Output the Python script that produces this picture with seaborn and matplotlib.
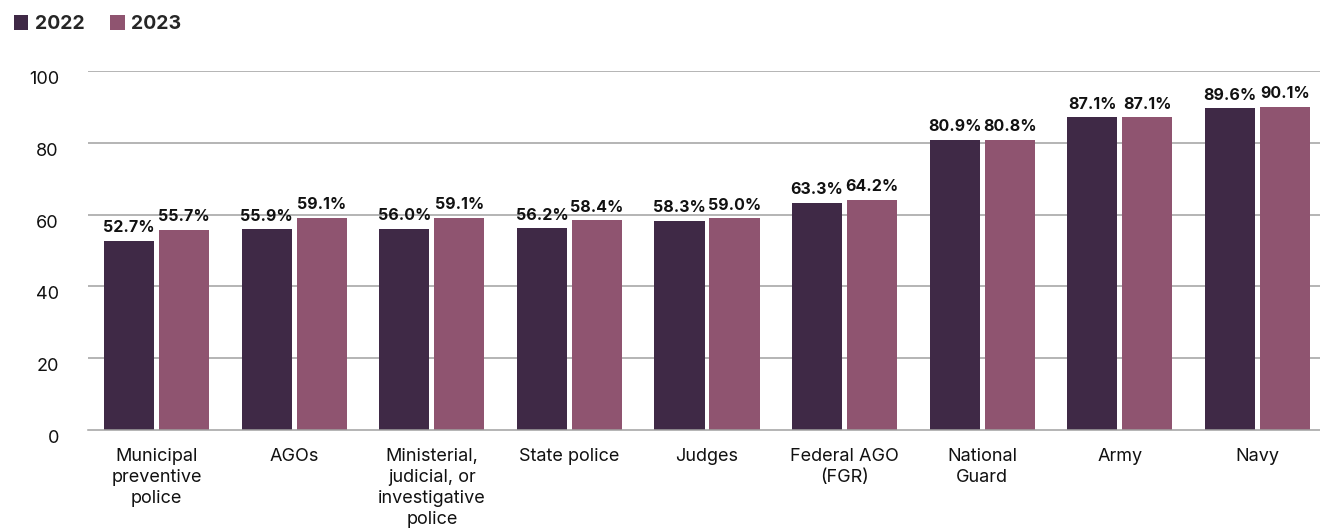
import matplotlib
matplotlib.use("Agg")
import matplotlib.pyplot as plt
from matplotlib.patches import Patch
import seaborn as sns
import pandas as pd

categories = ["Municipal\npreventive\npolice", "AGOs", "Ministerial,\njudicial, or\ninvestigative\npolice",
              "State police", "Judges", "Federal AGO\n(FGR)", "National\nGuard", "Army", "Navy"]
years = ["2022", "2023"]
values_2022 = [52.7, 55.9, 56.0, 56.2, 58.3, 63.3, 80.9, 87.1, 89.6]
values_2023 = [55.7, 59.1, 59.1, 58.4, 59.0, 64.2, 80.8, 87.1, 90.1]
yticks = [0, 20, 40, 60, 80, 100]
colors = {"2022": "#3f2946", "2023": "#8f5470"}

df = pd.DataFrame({
    "category": categories * 2,
    "year": ["2022"] * len(categories) + ["2023"] * len(categories),
    "value": values_2022 + values_2023,
})

sns.set_style("white")
plt.rcParams["font.family"] = ["Inter", "DejaVu Sans"]

fig = plt.figure(figsize=(13.2, 5.29), dpi=100)
ax = fig.add_axes([88 / 1320, 99 / 529, 1238 / 1320, 359 / 529])

sns.barplot(data=df, x="category", y="value", hue="year", order=categories,
            hue_order=years, palette=colors, width=0.8, gap=0.09,
            saturation=1, ax=ax, legend=False, errorbar=None, linewidth=0)

ax.set_ylim(0, 100)
ax.set_xlim(-0.5, len(categories) - 0.5)
ax.set_yticks(yticks)
ax.set_yticklabels([str(t) for t in yticks], fontsize=13, color="#111111", va="top")
ax.tick_params(axis="y", length=0, pad=21)
for t in yticks[1:]:
    ax.axhline(t, color="#a0a0a0", linewidth=1.1, zorder=0)

ax.set_xticks(range(len(categories)))
ax.set_xticklabels(categories, fontsize=13, color="#111111", linespacing=1.3, va="top")
ax.tick_params(axis="x", which="major", length=0, pad=13)
ax.set_xticks([i - 0.5 for i in range(len(categories) + 1)], minor=True)
ax.tick_params(axis="x", which="minor", direction="in", length=8, color="#a0a0a0", width=1)

for s in ["top", "right", "left"]:
    ax.spines[s].set_visible(False)
ax.spines["bottom"].set_color("#a0a0a0")
ax.spines["bottom"].set_linewidth(1.1)
ax.set_xlabel("")
ax.set_ylabel("")

for cont in ax.containers:
    ax.bar_label(cont, labels=[f"{v:.1f}%" for v in cont.datavalues], padding=4,
                 fontsize=11.5, fontweight="bold", color="#111111")

handles = [Patch(facecolor=colors[y], edgecolor="none") for y in years]
fig.legend(handles, years, loc="upper left", bbox_to_anchor=(-0.003, 1.004), ncol=2,
           frameon=False, handlelength=0.75, handleheight=0.75, handletextpad=0.35,
           columnspacing=1.3, borderpad=0.4, prop={"weight": "bold", "size": 14})

fig.savefig("out.png", dpi=100)
